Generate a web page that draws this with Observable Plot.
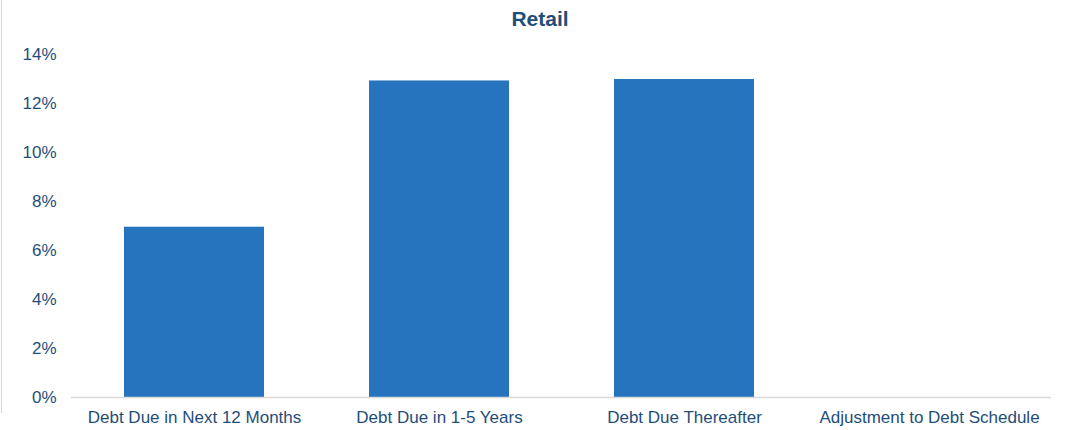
<!DOCTYPE html>
<html>
<head>
<meta charset="utf-8">
<script src="https://cdn.jsdelivr.net/npm/d3@7"></script>
<script src="https://cdn.jsdelivr.net/npm/@observablehq/plot@0.6"></script>
<style>
  html, body { margin: 0; padding: 0; background: #fff; }
  #wrap { position: relative; width: 1070px; height: 430px; overflow: hidden; font-family: "Liberation Sans", Arial, sans-serif; }
  #title { position: absolute; top: 6px; left: 0; width: 1080px; text-align: center; font-size: 21px; line-height: 26px; font-weight: bold; color: #1F4E79; }
  #edge { position: absolute; left: 1px; top: 0; width: 1px; height: 413px; background: #d9d9d9; }
  #chart { position: absolute; top: 0; left: 0; }
</style>
</head>
<body>
<div id="wrap">
  <div id="chart"></div>
  <div id="edge"></div>
  <div id="title">Retail</div>
</div>
<script>
const categories = ["Debt Due in Next 12 Months", "Debt Due in 1-5 Years", "Debt Due Thereafter", "Adjustment to Debt Schedule"];
const values = [6.95, 12.92, 12.98, 0];
const yTicks = [0, 2, 4, 6, 8, 10, 12, 14];

const data = categories.map((c, i) => ({category: c, value: values[i]}));

const chart = Plot.plot({
  width: 1070,
  height: 430,
  marginTop: 54,
  marginBottom: 33,
  marginLeft: 71,
  marginRight: 19,
  style: {fontFamily: "'Liberation Sans', Arial, sans-serif", fontSize: "17px", color: "#1F4E79", background: "transparent"},
  x: {domain: categories, paddingInner: 0.43, paddingOuter: 0.215, label: null},
  y: {domain: [0, 14], label: null},
  marks: [
    Plot.barY(data, {x: "category", y: "value", fill: "#2574BD"}),
    Plot.ruleY([0], {stroke: "#d9d9d9", strokeWidth: 1.5}),
    Plot.axisY({ticks: yTicks, tickSize: 0, tickPadding: 15, tickFormat: d => d + "%", fill: "#1F4E79", fontSize: 17}),
    Plot.axisX({tickSize: 0, tickPadding: 13, fill: "#1F4E79", fontSize: 17})
  ]
});
document.getElementById("chart").appendChild(chart);
</script>
</body>
</html>
